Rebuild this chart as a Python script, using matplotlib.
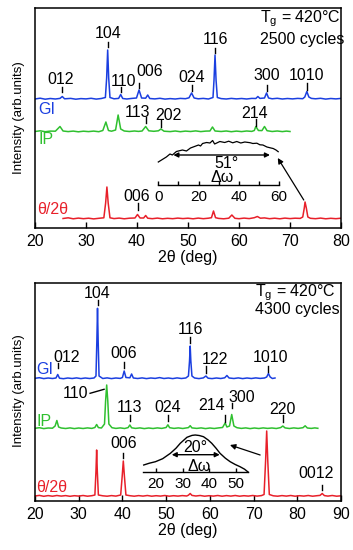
import numpy as np
import matplotlib
matplotlib.use("Agg")
import matplotlib.pyplot as plt

plt.rcParams['font.family'] = ['Liberation Sans', 'DejaVu Sans']
plt.rcParams['mathtext.fontset'] = 'custom'
plt.rcParams['mathtext.rm'] = 'Liberation Sans'
plt.rcParams['mathtext.it'] = 'Liberation Sans:italic'

# ---------------- DATA ----------------
# Top panel (2500 cycles): traces as (2theta, intensity) pairs
gi_top = np.array([
    (20.0,129),(21.0,129.8),(22.0,128.8),(23.0,129.5),(24.0,129),(24.9,129.6),(25.35,131.5),(25.8,129.2),
    (27.0,129.6),(28.0,128.8),(29.0,129.4),(30.0,129.1),(31.0,129.7),(32.0,128.9),(33.0,129.5),(33.8,130.5),
    (34.05,150),(34.25,178),(34.45,150),(34.7,130.5),(35.5,129.2),(36.4,129.6),(36.8,133.5),(37.2,129.5),
    (38.0,129.0),(39.0,129.6),(39.9,130),(40.4,138),(40.9,130),(41.7,129.8),(42.1,133),(42.5,129.5),
    (43.5,129.1),(44.5,129.7),(45.5,128.9),(46.5,129.4),(47.5,129.0),(48.5,129.6),(49.5,129.3),(50.2,130.2),
    (50.7,135),(51.2,130),(52.0,129.2),(53.0,129.6),(54.0,129.0),(54.9,130.5),(55.1,148),(55.3,173),
    (55.5,148),(55.75,130.5),(56.5,129.4),(57.5,129.0),(58.5,129.6),(59.5,129.1),(60.5,129.5),(61.5,129.0),
    (62.5,129.6),(63.3,129.5),(63.7,131.5),(64.1,129.6),(65.0,130),(65.4,135),(65.8,130),(66.5,129.2),
    (67.5,129.7),(68.5,129.0),(69.5,129.5),(70.5,129.1),(71.5,129.6),(72.5,129.3),(72.9,131),(73.3,136.5),
    (73.7,131),(74.2,129.6),(75.0,129.2),(76.0,129.7),(77.0,128.9),(78.0,129.5),(79.0,129.1),(80.0,129.6)])

ip_top = np.array([
    (20.0,96.5),(21.0,97.2),(22.0,96.3),(23.0,96.9),(24.0,96.8),(24.9,101.5),(25.5,97),(26.5,96.4),
    (27.5,96.9),(28.5,96.2),(29.5,96.8),(30.5,96.4),(31.5,96.9),(32.5,96.3),(33.3,97.5),(33.9,106),
    (34.4,97.5),(35.0,96.8),(35.8,98),(36.3,113),(36.8,99),(37.5,97),(38.5,96.5),(39.5,97),(40.3,96.6),
    (41.0,97),(41.7,101.5),(42.3,97.2),(43.3,96.7),(44.2,97.2),(44.7,99),(45.3,96.8),(46.5,96.4),(47.5,97),
    (48.5,96.3),(49.5,96.9),(50.5,96.5),(51.5,97.1),(52.5,96.4),(53.5,96.9),(54.3,97),(54.8,101),(55.3,97),
    (56.5,96.5),(57.5,97),(58.5,96.3),(59.5,96.9),(60.5,96.4),(61.5,97),(62.5,96.6),(63.0,97.5),(63.3,101.5),
    (63.8,97.5),(64.5,97.4),(65.0,101.5),(65.5,97.3),(66.5,96.5),(67.5,97),(68.5,96.4),(69.3,96.9),(70.0,96.5)])

tt_top = np.array([
    (25.5,9.5),(26.5,10.2),(27.5,9.2),(28.5,9.9),(29.5,9.3),(30.5,9.8),(31.5,9.1),(32.5,9.7),(33.5,10.2),
    (33.85,25),(34.1,41),(34.35,25),(34.7,10.2),(35.5,9.4),(36.5,9.9),(37.5,9.2),(38.5,9.8),(39.6,10),
    (40.1,13.5),(40.6,10),(41.3,10),(41.7,12.5),(42.1,9.8),(43.0,9.3),(44.0,9.9),(45.0,9.2),(46.0,9.7),
    (47.0,9.3),(48.0,9.9),(49.0,9.4),(50.0,9.8),(51.0,9.2),(52.0,9.9),(53.0,9.3),(54.0,9.8),(54.6,10.3),
    (55.0,17),(55.4,10.3),(56.0,9.6),(57.0,9.2),(58.0,9.8),(58.6,13),(59.2,9.7),(60.0,9.3),(61.0,9.9),
    (62.0,9.4),(63.0,10.3),(63.6,11.5),(64.2,9.8),(65.0,10.1),(66.0,9.3),(67.0,9.8),(68.0,9.2),(69.0,9.9),
    (70.0,9.4),(71.0,9.8),(72.0,9.6),(72.5,11),(72.8,20),(72.95,26),(73.2,20),(73.5,11),(74.0,9.7),
    (75.0,9.3),(76.0,9.9),(77.0,9.2),(78.0,9.7),(79.0,9.3),(80.0,9.8)])

rock_top = np.array([
    (0,23),(2,25.5),(4,28),(5.8,31),(7,30),(9,33.5),(12,35),(14,34),(16,37),(18,38.5),(20,40),(21,39),
    (22,41.5),(24,42.5),(25.7,42),(27,44.5),(28,41),(30.6,43.5),(33,42.5),(35,43.8),(37,42.2),(39,43.5),
    (41,42),(43,43),(45.6,42.3),(47,41.5),(49,41.8),(50.5,40.2),(52,40),(54,38),(56,37),(57.1,36.5),
    (58.5,35),(59.6,33.3)])

gi_top_hkl = ['012', '104', '110', '006', '024', '116', '300', '1010']
gi_top_pos = [25.35, 34.25, 36.8, 40.4, 50.7, 55.3, 65.4, 73.3]
ip_top_hkl = ['113', '202', '214']
ip_top_pos = [41.7, 44.7, 63.3]
tt_top_hkl = ['006']
tt_top_pos = [40.1]

# Bottom panel (4300 cycles)
gi_bot = np.array([
    (20.0,122.7),(21.0,123.3),(22.0,122.4),(23.0,123.0),(24.0,122.5),(24.8,123),(25.2,126.5),(25.6,122.8),
    (26.5,122.3),(27.5,123.0),(28.5,122.5),(29.5,123.1),(30.5,122.4),(31.5,123.0),(32.5,122.5),(33.5,123.0),
    (33.95,125),(34.15,160),(34.3,192.7),(34.45,160),(34.65,125),(35.5,122.5),(36.5,123.1),(37.5,122.4),
    (38.5,123),(39.5,122.6),(40.0,123.5),(40.4,130),(40.8,123.5),(41.7,123.2),(42.1,127),(42.5,123),
    (43.5,122.5),(44.5,123.1),(45.5,122.4),(46.5,123),(47.5,122.6),(48.5,123.4),(49.5,122.5),(50.5,123.0),
    (51.5,122.4),(52.5,123.1),(53.5,122.5),(54.5,123),(55.1,125),(55.35,140),(55.5,155),(55.65,140),
    (55.9,125),(56.5,123),(57.5,122.4),(58.5,123.1),(59.1,125),(59.6,122.8),(60.5,122.4),(61.5,123.0),
    (62.5,122.5),(63.4,123.2),(63.9,125.5),(64.4,123),(65.5,122.5),(66.5,123.1),(67.5,122.4),(68.5,123),
    (69.5,122.5),(70.5,123.1),(71.5,122.6),(72.5,123.0),(73.0,124),(73.4,127.5),(73.8,124),(74.3,122.5),
    (74.9,123)])

ip_bot = np.array([
    (20.0,72.7),(21.0,73.3),(22.0,72.4),(23.0,73),(24.0,72.8),(24.6,75),(25.0,80.5),(25.4,74),(26.0,73),
    (27.0,72.5),(28.0,73.1),(29.0,72.4),(30.0,73),(31.0,72.5),(32.0,73.1),(33.0,72.6),(33.7,73.5),
    (34.1,76.5),(34.5,73.4),(35.2,73),(35.9,77),(36.15,100),(36.4,116),(36.65,100),(36.9,77),(37.6,73.3),
    (38.5,72.6),(39.5,73.1),(40.5,72.5),(41.3,73.4),(41.7,76),(42.1,73.2),(43.0,72.6),(44.0,73.1),
    (45.0,72.4),(46.0,73.0),(47.0,72.5),(48.0,73.1),(49.0,72.6),(50.0,73.5),(50.4,76.2),(50.8,73.3),
    (51.8,72.6),(52.8,73.1),(53.8,72.5),(55.1,73.4),(55.5,75.3),(55.9,73.1),(57.0,72.6),(58.0,73.1),
    (59.0,72.4),(60.0,73.0),(61.0,72.5),(62.0,73.1),(62.9,73.5),(63.5,78),(63.9,74),(64.5,75),(65.0,86.5),
    (65.5,75),(66.2,73.3),(67.2,72.6),(68.2,73.1),(69.2,72.4),(70.2,73.0),(71.2,72.5),(72.2,73.1),
    (73.2,72.6),(74.2,73.0),(75.2,72.5),(76.2,73.4),(76.7,75),(77.2,73.1),(78.2,72.5),(79.2,73.1),
    (80.2,72.6),(81.3,73.3),(81.8,75.2),(82.3,73.0),(83.2,72.6),(84.0,73.1),(84.7,72.7)])

tt_bot = np.array([
    (20.0,5),(21.0,5.6),(22.0,4.7),(23.0,5.4),(24.0,4.8),(25.0,5.5),(26.0,4.9),(27.0,5.4),(28.0,4.7),
    (29.0,5.3),(30.0,4.9),(31.0,5.5),(32.0,4.8),(33.0,5.3),(33.7,6),(33.95,30),(34.1,51),(34.25,30),
    (34.5,6),(35.5,5.2),(36.5,4.8),(37.5,5.4),(38.5,4.9),(39.6,6),(39.95,25),(40.2,40),(40.45,25),(40.8,6),
    (41.7,5.3),(42.7,4.8),(43.7,5.4),(44.7,4.9),(45.7,5.5),(46.7,4.8),(47.7,5.3),(48.7,4.9),(49.7,5.5),
    (50.7,4.8),(51.7,5.3),(52.7,4.9),(53.7,5.4),(54.7,5.0),(55.1,5.8),(55.5,7.5),(55.9,5.6),(56.8,5.0),
    (57.8,5.5),(58.8,4.8),(59.8,5.3),(60.8,4.9),(61.8,5.5),(62.8,4.8),(63.8,5.4),(64.8,4.9),(65.8,5.5),
    (66.8,4.8),(67.8,5.3),(68.8,4.9),(69.8,5.5),(70.8,4.9),(71.8,5.4),(72.4,6.5),(72.75,40),(73.0,70),
    (73.25,40),(73.6,6.5),(74.5,5.2),(75.5,4.8),(76.5,5.4),(77.5,4.9),(78.5,5.5),(79.5,4.8),(80.5,5.3),
    (81.5,4.9),(82.5,5.5),(83.5,4.8),(84.5,5.3),(85.2,5.6),(85.7,7.5),(86.2,5.4),(87.0,4.9),(88.0,5.5),
    (89.0,4.8),(90.0,5.2)])

rock_bot = np.array([
    (15.4,6.7),(17.5,8.5),(19.8,10),(22.5,13),(25.4,18.4),(27.5,23.5),(29.1,28.4),(31.6,34.4),(33.5,36.3),
    (34.7,36.7),(36.2,36.2),(37.8,35),(39.5,31.8),(40.9,28.4),(42.5,23.5),(44.0,18.4),(46.0,13.5),
    (47.8,10),(49.7,7.2),(51.5,5),(53.2,2.5),(54.6,-0.5)])

gi_bot_hkl = ['012', '104', '006', '116', '122', '1010']
gi_bot_pos = [25.2, 34.3, 40.4, 55.5, 59.1, 73.4]
ip_bot_hkl = ['113', '024', '214', '300', '220']
ip_bot_pos = [41.7, 50.4, 63.5, 65.0, 76.7]
tt_bot_hkl = ['006', '0012']
tt_bot_pos = [40.2, 85.7]

fwhm_top = '51°'
fwhm_bot = '20°'
top_ticks = [20, 30, 40, 50, 60, 70, 80]
bot_ticks = [20, 30, 40, 50, 60, 70, 80, 90]

# ---------------- STYLE / LAYOUT ----------------
BLUE = '#1b3fe0'
GREEN = '#2fc02f'
RED = '#e8202a'
FS = 11.5
W, H = 353, 550
fig = plt.figure(figsize=(W / 100, H / 100), dpi=100)


def px_axes(l, t, r, b):
    return fig.add_axes([l / W, 1 - b / H, (r - l) / W, (b - t) / H])


def style_main(ax, xlim, ylim, ticks):
    ax.set_xlim(*xlim)
    ax.set_ylim(*ylim)
    ax.set_xticks(ticks)
    ax.set_yticks([])
    ax.tick_params(axis='x', direction='in', length=4, width=1, labelsize=FS, pad=4)
    for s in ax.spines.values():
        s.set_linewidth(1.1)
    ax.set_xlabel('2θ (deg)', fontsize=FS, labelpad=1)


def hkl(ax, names, pos, layout):
    for n, p, (tx, ty, y0, y1) in zip(names, pos, layout):
        ax.plot([p, p], [y0, y1], color='k', lw=1.0)
        ax.text(tx if tx is not None else p, ty, n, ha='center', va='center', fontsize=FS)


def inset(l, t, r, b, xlim, ylim, ticks, labeled):
    ia = px_axes(l, t, r, b)
    ia.patch.set_alpha(0)
    for k in ('top', 'left', 'right'):
        ia.spines[k].set_visible(False)
    ia.spines['bottom'].set_linewidth(1.0)
    ia.set_xlim(*xlim)
    ia.set_ylim(*ylim)
    ia.set_yticks([])
    ia.set_xticks(ticks)
    ia.set_xticklabels([str(t) if t in labeled else '' for t in ticks])
    ia.tick_params(axis='x', direction='in', length=3, width=1, labelsize=FS - 0.5, pad=3.5)
    return ia


# ---- top panel ----
ax1 = px_axes(35, 8, 341, 228)
style_main(ax1, (20, 80), (0, 220), top_ticks)
ax1.plot(gi_top[:, 0], gi_top[:, 1], color=BLUE, lw=1.1)
ax1.plot(ip_top[:, 0], ip_top[:, 1], color=GREEN, lw=1.1)
ax1.plot(tt_top[:, 0], tt_top[:, 1], color=RED, lw=1.1)

hkl(ax1, gi_top_hkl, gi_top_pos, [
    (25.0, 148, 136, 141), (None, 194.7, 181, 186), (37.3, 147, 136, 141), (42.4, 156.3, 140, 145),
    (None, 150.7, 137, 143), (None, 188.7, 175, 180), (None, 152, 137, 143), (None, 153, 138, 145)])
hkl(ax1, ip_top_hkl, ip_top_pos, [(40.1, 115.3, 105, 111), (46.1, 113, 101, 108), (63.1, 114.7, 102, 109)])
hkl(ax1, tt_top_hkl, tt_top_pos, [(39.9, 31.3, 18, 25)])

ax1.text(20.6, 119, 'GI', color=BLUE, fontsize=FS, ha='left', va='center')
ax1.text(20.6, 88, 'IP', color=GREEN, fontsize=FS, ha='left', va='center')
ax1.text(20.4, 19, 'θ/2θ', color=RED, fontsize=FS, ha='left', va='center')
ax1.text(0.735, 0.937, r'T$_\mathrm{g}$ = 420°C', transform=ax1.transAxes, fontsize=FS, ha='left', va='baseline')
ax1.text(0.735, 0.838, '2500 cycles', transform=ax1.transAxes, fontsize=FS, ha='left', va='baseline')
ax1.annotate('', xy=(67.6, 70), xytext=(72.7, 28),
             arrowprops=dict(arrowstyle='-|>', lw=0.9, color='k', mutation_scale=8, shrinkA=0, shrinkB=0))

in1 = inset(158.3, 135, 279, 185, (0, 60), (0, 50), [0, 10, 20, 30, 40, 50, 60], [0, 20, 40, 60])
in1.plot(rock_top[:, 0], rock_top[:, 1], color='k', lw=0.9, clip_on=False)
in1.annotate('', xy=(55.5, 30), xytext=(7.5, 30),
             arrowprops=dict(arrowstyle='<|-|>', lw=1.0, color='k', mutation_scale=7, shrinkA=0, shrinkB=0))
in1.text(34, 22, fwhm_top, fontsize=FS, ha='center', va='center')
in1.text(31.5, 8, 'Δω', fontsize=FS, ha='center', va='center')

# ---- bottom panel ----
ax2 = px_axes(35, 283, 341, 501)
style_main(ax2, (20, 90), (0, 218), bot_ticks)
ax2.plot(gi_bot[:, 0], gi_bot[:, 1], color=BLUE, lw=1.1)
ax2.plot(ip_bot[:, 0], ip_bot[:, 1], color=GREEN, lw=1.1)
ax2.plot(tt_bot[:, 0], tt_bot[:, 1], color=RED, lw=1.1)

hkl(ax2, gi_bot_hkl, gi_bot_pos, [
    (27.3, 144, 133, 138), (None, 208, 196, 201), (None, 147, 133, 139), (None, 172, 158, 164),
    (61.2, 142, 128, 135), (73.9, 144, 129, 135)])
hkl(ax2, ip_bot_hkl, ip_bot_pos, [
    (None, 94, 80, 86), (None, 94, 80, 86), (60.4, 95, 79, 86), (67.3, 103, 93, 98), (None, 91, 79, 86)])
hkl(ax2, tt_bot_hkl, tt_bot_pos, [(None, 58, 43, 48), (84.4, 28, 11, 16)])
ax2.text(29.2, 107, '110', fontsize=FS, ha='center', va='center')
ax2.plot([32.6, 35.8], [107.7, 111.7], color='k', lw=1.0)

ax2.text(20.3, 132, 'GI', color=BLUE, fontsize=FS, ha='left', va='center')
ax2.text(20.4, 80, 'IP', color=GREEN, fontsize=FS, ha='left', va='center')
ax2.text(20.3, 14, 'θ/2θ', color=RED, fontsize=FS, ha='left', va='center')
ax2.text(0.719, 0.941, r'T$_\mathrm{g}$ = 420°C', transform=ax2.transAxes, fontsize=FS, ha='left', va='baseline')
ax2.text(0.719, 0.858, '4300 cycles', transform=ax2.transAxes, fontsize=FS, ha='left', va='baseline')
ax2.annotate('', xy=(64.6, 56), xytext=(71.5, 46),
             arrowprops=dict(arrowstyle='-|>', lw=0.9, color='k', mutation_scale=8, shrinkA=0, shrinkB=0))

in2 = inset(143.3, 429.7, 248.3, 471.7, (15.24, 54.6), (0, 42), [20, 30, 40, 50], [20, 30, 40, 50])
in2.plot(rock_bot[:, 0], rock_bot[:, 1], color='k', lw=1.0, clip_on=False)
in2.annotate('', xy=(43.9, 17), xytext=(25.9, 17),
             arrowprops=dict(arrowstyle='<|-|>', lw=1.0, color='k', mutation_scale=7, shrinkA=0, shrinkB=0))
in2.text(34.6, 24, fwhm_bot, fontsize=FS, ha='center', va='center')
in2.text(36.0, 5.5, 'Δω', fontsize=FS, ha='center', va='center')

fig.text(19 / W, 1 - 118 / H, 'Intensity (arb.units)', rotation=90, ha='center', va='center', fontsize=9.5)
fig.text(19 / W, 1 - 391 / H, 'Intensity (arb.units)', rotation=90, ha='center', va='center', fontsize=9.5)

fig.savefig('out.png', dpi=100)
